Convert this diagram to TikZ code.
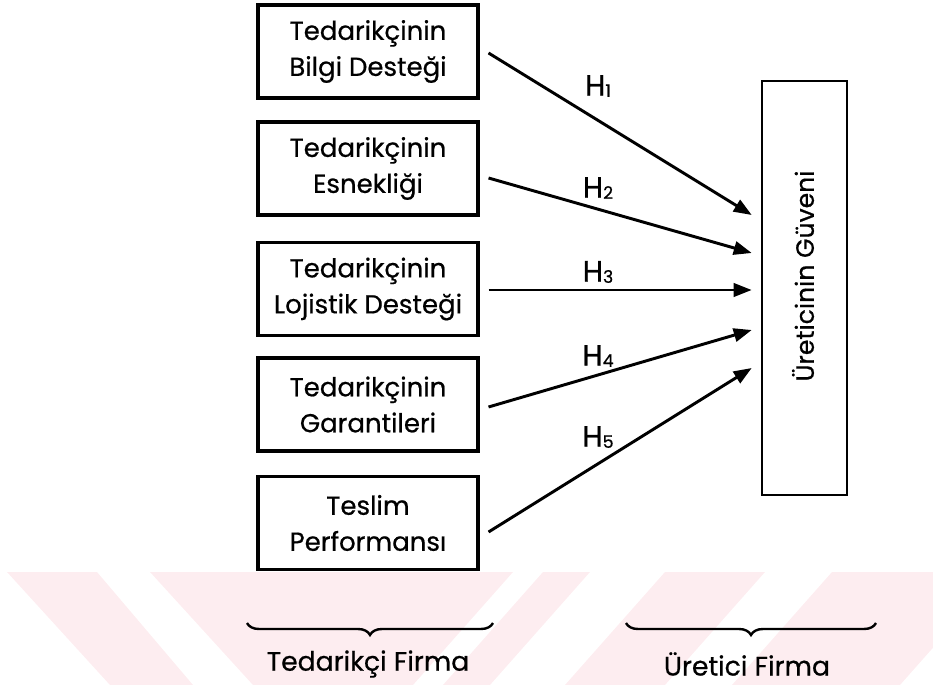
\documentclass[tikz,border=0pt]{standalone}
\usepackage{fontspec}
\setmainfont{Poppins}[FakeBold=0.6]
\usetikzlibrary{arrows.meta,decorations.pathreplacing,calc}

\definecolor{wmpink}{RGB}{253,237,240}

\begin{document}
\begin{tikzpicture}[x=0.75pt,y=-0.75pt,
  factor/.style={draw,line width=2.3pt,minimum width=165pt,minimum height=69.75pt,
    align=center,inner sep=0pt,font=\fontsize{19.5}{27}\selectfont},
  target/.style={draw,line width=1.9pt,minimum width=63.75pt,minimum height=310.5pt,inner sep=0pt},
  hyp/.style={-{Triangle[length=13.5pt,width=10pt]},line width=2.2pt},
  hlabel/.style={inner sep=0pt,font=\fontsize{22}{22}\selectfont},
  grouplabel/.style={inner sep=0pt,font=\fontsize{20}{20}\selectfont},
  grpbrace/.style={decorate,decoration={brace,amplitude=9pt,mirror},line width=1.8pt}]

\useasboundingbox (0,0) rectangle (933,685);

% background mark below the figure
\begin{scope}
  \clip (0,572) rectangle (933,685);
  \fill[wmpink] (7,572) -- (97,572) -- (193,685) -- (110,685) -- cycle;
  \fill[wmpink] (150,572) -- (513,572) -- (413,685) -- (253,685) -- cycle;
  \fill[wmpink] (543,572) -- (590,572) -- (490,685) -- (443,685) -- cycle;
  \fill[wmpink] (665,572) -- (765,572) -- (665,685) -- (565,685) -- cycle;
  \fill[wmpink] (832,572) -- (1000,572) -- (900,685) -- (732,685) -- cycle;
\end{scope}

% supplier-side factors
\node[factor] (b1) at (368,51.5)  {Tedarikçinin\\Bilgi Desteği};
\node[factor] (b2) at (368,168.5) {Tedarikçinin\\Esnekliği};
\node[factor] (b3) at (368,289)   {Tedarikçinin\\Lojistik Desteği};
\node[factor] (b4) at (368,404.5) {Tedarikçinin\\Garantileri};
\node[factor] (b5) at (368,523)   {Teslim\\Performansı};

% manufacturer's trust
\node[target] (g) at (804.5,288) {};
\node[rotate=90,inner sep=0pt,font=\fontsize{18.8}{18.8}\selectfont] (gt) at (803,276) {Üreticinin Güveni};

% hypotheses
\draw[hyp] ($(b1.east)+(9,1.5)$) -- ($(g.west)+(-9,-73)$);
\draw[hyp] ($(b2.east)+(9,9.5)$) -- ($(g.west)+(-9,-35)$);
\draw[hyp] ($(b3.east)+(9,1)$)   -- ($(g.west)+(-9,2)$);
\draw[hyp] ($(b4.east)+(9,2.5)$) -- ($(g.west)+(-9,42)$);
\draw[hyp] ($(b5.east)+(9,9)$)   -- ($(g.west)+(-9,80)$);

\node[hlabel] (h1) at (598,86)  {H\raisebox{-1pt}{\fontsize{13}{13}\selectfont 1}};
\node[hlabel] (h2) at (598,188) {H\raisebox{-1pt}{\fontsize{13}{13}\selectfont 2}};
\node[hlabel] (h3) at (598,272) {H\raisebox{-1pt}{\fontsize{13}{13}\selectfont 3}};
\node[hlabel] (h4) at (598,356) {H\raisebox{-1pt}{\fontsize{13}{13}\selectfont 4}};
\node[hlabel] (h5) at (598,437) {H\raisebox{-1pt}{\fontsize{13}{13}\selectfont 5}};

% grouping braces
\coordinate (l1) at (247,623);
\coordinate (l2) at (493,623);
\coordinate (r1) at (626,623);
\coordinate (r2) at (876,623);
\draw[grpbrace] (l1) -- (l2);
\draw[grpbrace] (r1) -- (r2);
\node[grouplabel] (sup) at (368,664) {Tedarikçi Firma};
\node[grouplabel] (man) at (747,664) {Üretici Firma};

\end{tikzpicture}
\end{document}
